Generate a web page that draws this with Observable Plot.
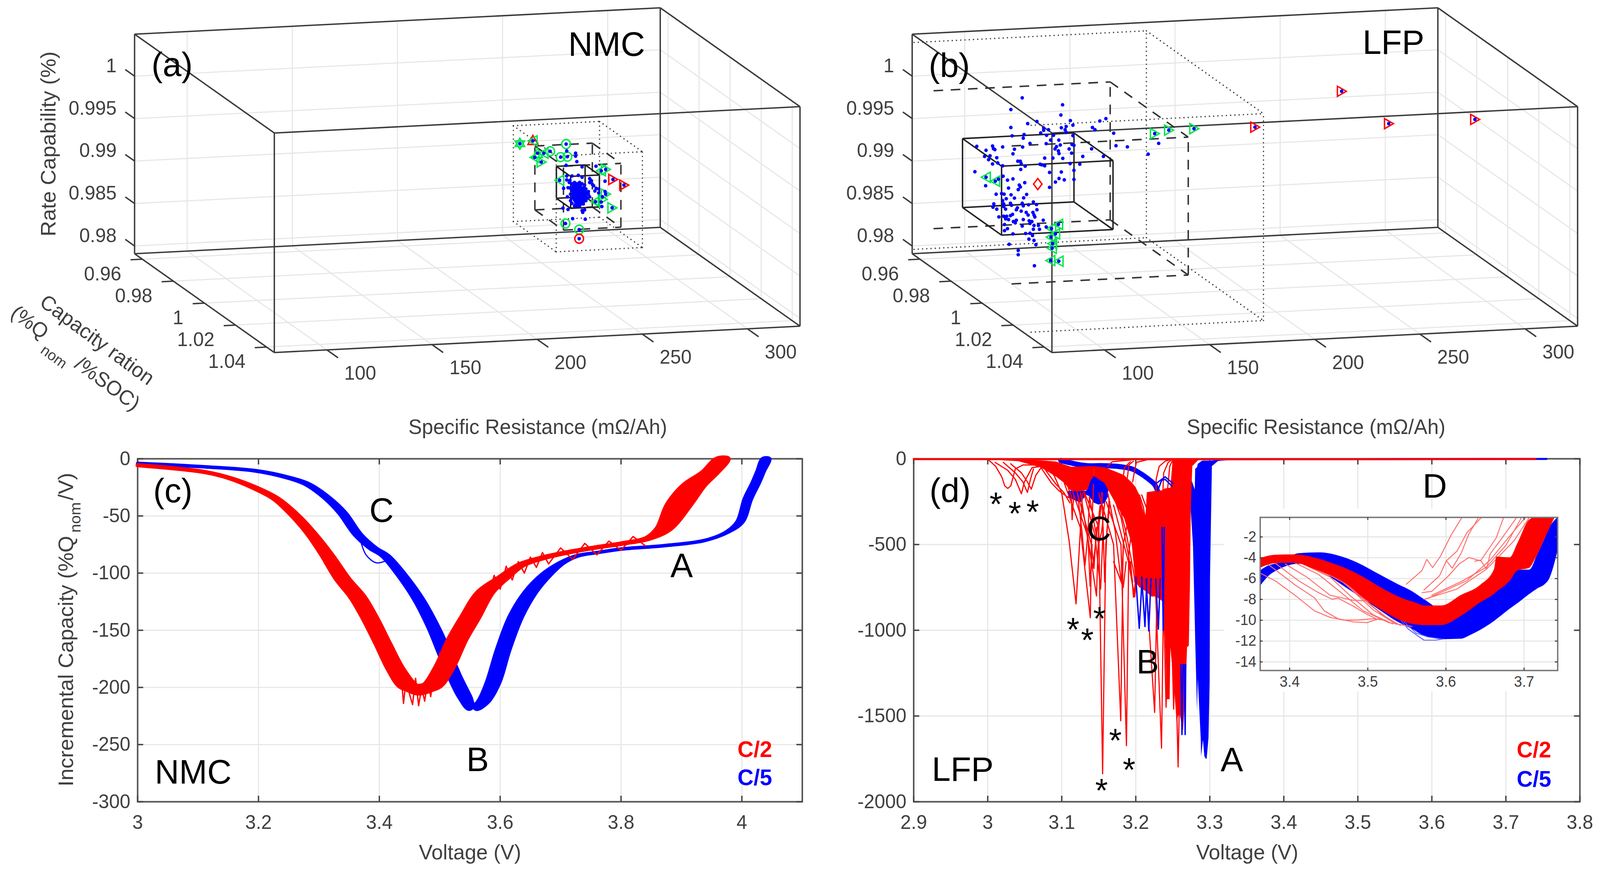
<!DOCTYPE html>
<html><head><meta charset="utf-8">
<script src="https://cdn.jsdelivr.net/npm/d3@7"></script>
<script src="https://cdn.jsdelivr.net/npm/@observablehq/plot@0.6"></script>
<style>html,body{margin:0;background:#fff;overflow:hidden}#page{position:relative;width:4179px;height:2240px;overflow:hidden;transform-origin:0 0}</style>
</head><body><div id="page"></div>
<script>
// ---------- 3D axes ----------
const resDomain=[75,325], capDomain=[0.955,1.045], rateDomain=[0.97909,1.00494];
const resTicks=[100,150,200,250,300], capTicks=[0.96,0.98,1,1.02,1.04], rateTicks=[0.98,0.985,0.99,0.995,1];
// ---------- NMC scatter (depth cannot be read: taken on the capacity = 1 plane) ----------
const aRes=[225.0,231.2,247.0,239.4,233.4,236.4,232.1,244.4,247.6,235.2,247.3,251.5,251.5,252.1,247.0,254.6,261.2,263.7,265.8,269.3,265.5,274.5,243.9,247.3,249.8,252.8,254.6,258.2,258.9,248.8,247.3,245.8,247.6,249.1,249.8,251.0,245.5,247.9,254.9,254.6,255.8,250.1,256.1,246.7,253.2,253.2,268.9,264.0,261.0,265.5,265.8,264.3,263.7,260.1,261.3,262.5,260.7,262.5,258.2,259.5,248.5,249.8,251.0,252.2,253.4,254.6,255.8,247.9,249.1,250.4,251.6,252.8,254.0,255.2,256.4,249.8,251.0,252.2,253.4,254.6,255.8,257.6,249.1,250.4,251.6,252.8,254.0,255.2,256.4,257.6,249.8,251.0,252.2,253.4,254.6,255.8,257.0,258.2,251.6,252.8,254.0,255.2,256.4,252.2,253.4,250.4,251.6,252.8,254.0,255.2,249.1,250.4,251.6,252.8,254.0,255.2,256.4,250.4,251.6,252.8,254.0,255.2,256.4,251.0,252.2,253.4,254.6,255.8,251.6,252.8,254.0,255.2,250.4,251.6,252.8,254.0];
const aRate=[.99600,.99626,.99568,.99493,.99478,.99474,.99429,.99418,.99419,.99371,.99487,.99455,.99420,.99355,.99318,.99290,.99290,.99233,.99246,.99124,.99108,.99051,.99146,.99192,.99189,.99193,.99168,.99148,.99124,.99137,.99146,.99048,.98946,.98899,.98867,.98835,.98816,.98797,.98754,.98777,.98783,.98686,.98672,.98633,.98553,.98446,.98790,.98811,.98872,.98986,.98955,.98926,.98865,.99061,.99029,.99020,.98999,.98974,.99102,.99078,.99114,.99097,.99111,.99094,.99108,.99091,.99074,.99053,.99052,.99066,.99049,.99063,.99046,.99044,.99028,.99021,.99019,.99018,.99016,.99015,.98998,.98995,.98975,.98974,.98972,.98971,.98969,.98968,.98966,.98965,.98929,.98927,.98926,.98924,.98923,.98906,.98920,.98933,.98880,.98879,.98877,.98876,.98890,.98834,.98832,.99043,.99041,.99040,.99038,.99037,.99044,.98997,.98995,.98994,.98992,.98991,.98989,.98951,.98949,.98948,.98946,.98945,.98943,.98904,.98903,.98901,.98900,.98898,.98857,.98856,.98854,.98853,.99089,.99087,.99086,.99084];
const aMarkRes=[225.0,231.2,231.2,233.4,236.4,232.1,235.2,239.4,247.0,244.4,247.6,246.7,253.2,253.2,263.7,265.8,269.3,274.5,243.9,265.8,264.3,261.0,268.9,251.3];
const aMarkRate=[.99600,.99634,.99626,.99478,.99474,.99429,.99371,.99493,.99568,.99418,.99419,.98633,.98553,.98446,.99233,.99246,.99124,.99051,.99146,.98955,.98895,.98872,.98790,.99088];
const aMarkKind=["star","up","left","up","left","left","right","circle","circle","circle","circle","circle","circle","circle","left","right","right","right","left","right","right","left","right","tiny"];
const aMarkColor=["g","r","g","g","g","g","g","g","g","g","g","g","g","r","g","g","r","r","g","g","g","g","g","r"];
const aCentre={res:252.6,cap:1,rate:0.9906}, aSigma={res:6.83,cap:0.0046,rate:0.00188};
// ---------- LFP scatter ----------
const bRes=[94.1,113.3,88.7,112.5,117.0,133.9,131.0,101.1,96.7,88.7,104.3,118.2,112.7,115.0,114.5,127.5,128.7,106.6,104.3,115.0,102.9,105.7,109.0,95.0,89.3,94.6,118.2,137.6,107.6,111.5,97.8,105.5,112.2,117.8,118.7,72.5,80.0,84.8,94.3,110.4,138.7,144.1,81.1,76.9,90.4,80.4,109.7,116.4,127.1,111.3,111.6,117.6,89.7,159.0,154.0,76.2,78.8,82.0,78.1,104.8,108.7,113.4,122.9,132.7,92.0,93.2,93.6,80.0,82.5,84.8,95.5,102.6,104.8,103.4,116.9,121.5,93.4,71.6,107.1,112.7,118.7,76.9,85.0,82.8,81.3,87.1,89.7,95.3,109.9,111.6,114.1,118.7,76.7,92.7,93.2,92.2,87.6,107.1,81.7,84.3,85.5,88.8,96.2,86.5,90.4,94.8,84.8,85.3,80.6,88.5,89.0,94.1,94.6,97.1,99.4,100.9,80.2,82.0,85.3,86.2,91.8,91.3,93.6,101.1,96.0,99.2,96.9,99.7,89.5,88.5,83.0,85.3,86.7,86.2,87.6,100.1,89.9,91.3,90.8,94.6,97.4,98.7,97.8,104.1,94.1,85.7,99.7,101.8,105.5,87.1,85.7,99.4,102.3,89.7,95.7,97.8,99.0,97.3,99.7,100.6,87.9,92.2,92.2,99.9,111.3,108.0,109.9,107.8,108.5,108.3,107.6,111.5,157.1,163.8,175.8];
const bRate=[1.00302,1.00197,1.00171,1.00077,1.00006,1.00008,.99984,1.00015,.99996,.99960,.99934,.99951,.99927,.99939,.99902,.99912,.99884,.99911,.99907,.99870,.99878,.99847,.99843,.99869,.99861,.99827,.99828,.99832,.99788,.99783,.99761,.99749,.99725,.99724,.99713,.99758,.99753,.99736,.99723,.99708,.99683,.99663,.99709,.99706,.99702,.99722,.99682,.99673,.99661,.99657,.99625,.99622,.99649,.99686,.99565,.99635,.99639,.99612,.99594,.99580,.99575,.99566,.99577,.99565,.99559,.99557,.99529,.99541,.99550,.99514,.99496,.99510,.99489,.99502,.99500,.99487,.99460,.99460,.99408,.99406,.99418,.99389,.99391,.99358,.99337,.99342,.99353,.99302,.99291,.99331,.99312,.99311,.99289,.99277,.99254,.99224,.99248,.99232,.99183,.99188,.99179,.99167,.99162,.99124,.99127,.99124,.99103,.99064,.99070,.99068,.99044,.99061,.99030,.99039,.99070,.99037,.99032,.99007,.99034,.99002,.99010,.98988,.98969,.98976,.98951,.98947,.98919,.98916,.98936,.98922,.98914,.98919,.98917,.98887,.98877,.98892,.98851,.98865,.98835,.98869,.98850,.98840,.98819,.98849,.98793,.98821,.98793,.98791,.98768,.98771,.98749,.98748,.98744,.98706,.98703,.98704,.98675,.98635,.98617,.98565,.98586,.98508,.98458,.98318,.98791,.98745,.98681,.98645,.98568,.98514,.98370,.98357,.99803,.99836,.99838];
const bMarkRes=[76.9,81.3,111.3,108.0,109.9,107.8,108.5,108.3,107.6,111.5,157.1,163.8,175.8,246.0,204.8,268.4,309.4,101.5];
const bMarkRate=[.99389,.99337,.98791,.98745,.98681,.98645,.98568,.98514,.98370,.98357,.99803,.99836,.99838,1.00191,.99820,.99782,.99781,.99278];
const bMarkKind=["left","left","left","left","left","left","left","left","left","left","right","right","right","right","right","right","right","diamond"];
const bMarkColor=["g","g","g","g","g","g","g","g","g","g","g","g","g","r","r","r","r","r"];
const bExtraRes=[246.0,204.8,268.4,309.4], bExtraRate=[1.00191,.99820,.99782,.99781];
const bCentre={res:101.5,cap:1,rate:0.99278}, bSigma={res:26.5,cap:0.01257,rate:0.00406};
// ---------- (c) NMC incremental capacity: mid curve and half-width of the band of cycles, in volts ----------
const cBlueV=[3,3.11,3.195,3.246,3.28,3.313,3.339,3.364,3.389,3.41,3.436,3.465,3.49,3.508,3.525,3.541,3.554,3.571,3.588,3.605,3.626,3.651,3.677,3.702,3.727,3.761,3.8,3.871,3.938,3.976,3.997,4.01,4.023,4.031,4.04];
const cBlueQ=[-4,-7,-10.5,-16,-22,-34,-47.5,-66,-78,-85,-101,-123,-148,-170,-191,-208,-219,-213,-196,-167,-138,-116,-101,-91,-85,-82,-79,-76,-71.5,-64,-55,-35,-21,-11,0];
const cBlueSpread=[0,0,.002,.003,.004,.005,.006,.006,.006,.006,.007,.008,.009,.01,.01,.01,.006,.009,.011,.011,.011,.01,.008,.004,.002,0,0,0,0,.002,.005,.006,.006,.006,.006];
const cBlueDipV=[3.368,3.378,3.395,3.412], cBlueDipQ=[-70,-84,-91,-89];
const cRedV=[3,3.11,3.153,3.195,3.229,3.263,3.288,3.313,3.339,3.364,3.385,3.406,3.427,3.448,3.465,3.486,3.508,3.529,3.55,3.575,3.605,3.634,3.668,3.71,3.753,3.803,3.845,3.871,3.896,3.921,3.947,3.968];
const cRedQ=[-5.6,-11.5,-17,-25.6,-35,-51,-66,-84,-105,-121,-140,-162,-184,-199,-202,-199,-182,-158,-139,-117,-104,-93,-87,-82,-78,-74,-69.5,-61,-40,-23,-12,0];
const cRedSpread=[0,0,.001,.003,.004,.006,.007,.009,.011,.012,.012,.012,.013,.015,.015,.015,.015,.015,.015,.013,.008,.005,.003,.002,.001,.002,.004,.012,.02,.018,.013,.01];
const cRedNoiseLow=[[3.42,-178],[3.43,-196],[3.435,-182],[3.44,-214],[3.445,-190],[3.45,-206],[3.455,-215],[3.46,-192],[3.465,-216],[3.47,-200],[3.475,-212],[3.48,-195],[3.485,-208],[3.49,-190],[3.495,-200],[3.5,-170],[3.505,-195],[3.51,-165],[3.515,-172],[3.52,-160],[3.525,-172]];
const cRedNoiseHigh=[[3.56,-128],[3.57,-112],[3.58,-122],[3.59,-102],[3.6,-114],[3.61,-94],[3.62,-106],[3.63,-90],[3.64,-100],[3.65,-86],[3.66,-95],[3.67,-82],[3.68,-92],[3.7,-78],[3.72,-88],[3.74,-74],[3.76,-84],[3.78,-72],[3.8,-80],[3.82,-68],[3.84,-76]];
const cRedNoiseMid=[[3.3,-80],[3.31,-92],[3.32,-88],[3.33,-108],[3.34,-103],[3.35,-122],[3.36,-116],[3.37,-135],[3.38,-130],[3.39,-155],[3.4,-147],[3.41,-172],[3.42,-165]];
// ---------- (d) LFP incremental capacity: [V, upper Q, lower Q] envelopes ----------
const dRedTail=[[2.9,0,-3],[2.98,0,-5],[3.0107,-1,-8],[3.0414,-6,-15],[3.072,-10,-52],[3.0925,-17,-105],[3.1027,-33,-139],[3.113,-48,-188],[3.1252,-46,-192],[3.1354,-44,-181],[3.1385,-44,-135],[3.1436,-44,-101]];
const dRedBand=[[3.1436,-44,-101],[3.1579,-50,-143],[3.1743,-78,-272],[3.1845,-97,-348],[3.1948,-139,-500],[3.1998,-165,-720],[3.205,-211,-750],[3.2132,-355,-772],[3.2152,-196,-780],[3.2213,-192,-804],[3.2275,-188,-804],[3.2357,-185,-830],[3.2398,-173,-1039],[3.2419,-173,-1403],[3.246,-170,-1403],[3.247,-170,-1100],[3.2502,0,-1250],[3.2522,0,-1342],[3.2553,0,-1533],[3.259,0,-1480],[3.2641,0,-1586],[3.2678,0,-1319],[3.2695,0,-1100],[3.2719,0,-1091],[3.2735,0,-720],[3.2745,0,-300],[3.2766,0,-44],[3.2848,0,-8]];
const dBluePatch=[[3.1089,-188,-226],[3.1252,-188,-257],[3.1334,-188,-211],[3.1375,-120,-219],[3.1436,-101,-257],[3.1498,-97,-268],[3.1579,-120,-260],[3.163,-143,-219]];
const dBlueMain=[[3.2745,-112,-300],[3.2775,-150,-500],[3.28,-180,-950],[3.2805,-60,-1050],[3.283,-50,-1470],[3.284,-30,-1280],[3.288,-18,-1630],[3.2885,-15,-1737],[3.291,-12,-1640],[3.293,-12,-1737],[3.295,-12,-1750],[3.296,-12,-1750],[3.2985,-12,-1630],[3.3,-12,-1300],[3.3005,-12,-700],[3.3031,-12,-44],[3.3113,-6,-14],[3.3297,-2,-6]];
const dBlueBand=[[3.0986,-10],[3.1129,-25],[3.1334,-40],[3.1539,-40],[3.1743,-44],[3.1948,-59],[3.205,-82],[3.2152,-112],[3.2254,-150],[3.2295,-188]];
const dBlueBaseline=[[3.3,-3],[3.5,-2],[3.755,-1]];
const dRedBaseline=[[2.9,-2],[3.3,-3],[3.5,-3],[3.6,-2],[3.74,-1]];
const dBlueSpikes=[[[3.2255,-150],[3.2397,-105],[3.25,-143]],[[3.2295,-188],[3.235,-125],[3.2397,-120],[3.249,-160]],[[3.2,-690],[3.2047,-989],[3.2085,-700]],[[3.208,-690],[3.2124,-978],[3.215,-700]],[[3.214,-700],[3.2176,-1004],[3.2205,-700]],[[3.227,-700],[3.2305,-993],[3.233,-700]],[[3.2355,-400],[3.237,-1000],[3.2385,-400]],[[3.261,-1200],[3.2624,-1608],[3.2638,-1200]],[[3.2655,-1200],[3.2667,-1608],[3.2675,-1200]]];
const dRedSpikes=[
[[3.0,-2],[3.0107,-44],[3.0189,-105],[3.023,-158],[3.0271,-173],[3.0311,-158],[3.0373,-59],[3.0475,-36],[3.0618,-36]],
[[3.01,-21],[3.027,-67],[3.0373,-120],[3.0455,-204],[3.0495,-135],[3.0598,-52],[3.072,-44]],
[[3.021,-21],[3.0373,-82],[3.0475,-135],[3.0536,-196],[3.0577,-120],[3.0618,-59]],
[[3.031,-29],[3.0455,-82],[3.0536,-135],[3.0588,-177],[3.0649,-97],[3.072,-52]],
[[3.075,-20],[3.09,-100],[3.1,-200],[3.11,-480],[3.1193,-846],[3.124,-500],[3.128,-200]],
[[3.1,-100],[3.125,-400],[3.1386,-927],[3.1405,-400],[3.143,-150]],
[[3.11,-130],[3.135,-450],[3.1469,-800],[3.15,-400],[3.155,-200]],
[[3.13,-190],[3.15,-400],[3.1552,-1837],[3.1595,-500],[3.165,-250]],
[[3.12,-180],[3.14,-500],[3.1435,-640],[3.147,-400]],
[[3.15,-200],[3.17,-500],[3.1797,-1528],[3.183,-500],[3.19,-350]],
[[3.16,-250],[3.18,-500],[3.1874,-1673],[3.1905,-550],[3.195,-400]],
[[3.13,-200],[3.145,-450],[3.1525,-760],[3.156,-400]],
[[3.17,-270],[3.19,-600],[3.1986,-805],[3.202,-650]],
[[3.215,-780],[3.2255,-1479],[3.2285,-800]],
[[3.227,-800],[3.2348,-1688],[3.2375,-800]],
[[3.2375,-800],[3.2409,-1449],[3.244,-1000]],
[[3.249,-1100],[3.2512,-1460],[3.253,-1100]],
[[3.255,-1400],[3.2572,-1797],[3.259,-1400]],
[[3.25,-2],[3.2397,-14],[3.2316,-44],[3.2275,-120],[3.2275,-185]],
[[3.25,-2],[3.2438,-21],[3.2377,-82],[3.2367,-185]],
[[3.25,-6],[3.2459,-44],[3.2428,-185]],
[[3.2504,-14],[3.2489,-185]],
[[3.162,-44],[3.1682,-17],[3.1948,-6]],
[[3.2152,-6],[3.2009,-21],[3.1988,-59],[3.1958,-135]],
[[3.1968,-14],[3.1907,-36],[3.1886,-112]],
[[3.1927,-17],[3.1845,-52],[3.1835,-97]],
[[3.1068,-143],[3.113,-219],[3.114,-355],[3.116,-219]],
[[3.1211,-196],[3.1273,-424],[3.1314,-621],[3.1355,-424],[3.1375,-219]],
[[3.1252,-196],[3.1334,-424],[3.1416,-636],[3.1457,-500],[3.1518,-272]],
[[3.1375,-219],[3.1457,-424],[3.1498,-500],[3.1539,-424],[3.158,-257]],
[[3.1539,-196],[3.156,-424],[3.158,-720],[3.161,-424],[3.1641,-234]],
[[3.162,-196],[3.1723,-424],[3.1804,-720],[3.1835,-500]],
[[3.1682,-196],[3.1804,-348],[3.1907,-576],[3.1958,-720]],
[[3.1743,-219],[3.1866,-424],[3.1968,-652],[3.1988,-720]],
[[3.205,-211],[3.2101,-279],[3.2132,-355],[3.2152,-272],[3.2193,-211]],
[[3.208,-211],[3.2152,-295]],
[[3.072,-52],[3.0864,-143],[3.0966,-188],[3.1089,-226]],
[[3.0782,-67],[3.0925,-150],[3.1027,-196],[3.1109,-257]],
[[3.17,-600],[3.1831,-750],[3.187,-600]],
[[3.193,-600],[3.1969,-807],[3.2,-700]],
[[3.136,-500],[3.1383,-743],[3.141,-500]]];
const starV=[3.011,3.0366,3.0607,3.1152,3.1345,3.151,3.1724,3.191,3.1538];
const starQ=[-220,-273,-264,-951,-1011,-886,-1597,-1768,-1889];
// ---------- (d) inset ----------
const insetRed=[[3.3623,-4.04,-4.98],[3.3818,-3.73,-4.54],[3.4068,-3.70,-4.50],[3.4318,-4.00,-5.10],[3.4568,-4.60,-5.85],[3.4743,-5.10,-6.60],[3.4943,-5.85,-7.85],[3.5193,-6.98,-9.10],[3.5443,-7.90,-10.10],[3.5643,-8.40,-10.45],[3.5718,-8.60,-10.48],[3.5943,-8.60,-10.48],[3.6193,-7.60,-9.60],[3.6443,-6.60,-8.29],[3.6618,-5.10,-7.48],[3.6648,-3.91,-7.29],[3.6818,-3.98,-6.23],[3.6918,-2.60,-5.23],[3.7068,-0.35,-4.98],[3.7143,-0.125,-4.10],[3.7268,-0.125,-2.10],[3.7393,-0.125,-0.125]];
const insetBlue=[[3.3623,-5.23,-6.73],[3.3718,-4.79,-5.85],[3.3868,-4.48,-5.10],[3.4118,-3.58,-4.60],[3.4393,-3.50,-5.23],[3.4618,-3.79,-6.35],[3.4868,-4.48,-7.60],[3.5118,-5.48,-8.85],[3.5368,-6.48,-10.10],[3.5568,-7.23,-10.85],[3.5718,-7.98,-11.48],[3.5968,-8.98,-11.83],[3.6193,-8.85,-11.79],[3.6318,-8.35,-11.41],[3.6568,-7.10,-10.35],[3.6818,-5.85,-8.91],[3.6943,-5.16,-8.23],[3.7068,-5.16,-7.50],[3.7168,-3.73,-6.98],[3.7268,-2.10,-6.54],[3.7318,-1.23,-6.10],[3.743,-0.125,-3.35]];
const insetRedThin=[
[[3.5493,-6.54],[3.5693,-5.23],[3.5755,-4.16],[3.583,-4.95],[3.593,-3.85],[3.6068,-1.79],[3.6205,-0.125]],
[[3.5718,-7.10],[3.5918,-5.73],[3.6005,-4.29],[3.6143,-3.35],[3.6268,-1.60],[3.6455,-0.125]],
[[3.6005,-4.29],[3.608,-5.0],[3.6193,-3.6],[3.6293,-1.73],[3.6418,-0.125]],
[[3.5693,-7.35],[3.5818,-7.23],[3.6018,-5.85],[3.6168,-4.60],[3.6293,-3.98],[3.6443,-4.29],[3.6643,-2.10],[3.6738,-0.125]],
[[3.6368,-4.33],[3.6443,-4.23],[3.6518,-5.10],[3.6568,-3.60],[3.6718,-2.10],[3.6905,-0.125]],
[[3.3623,-5.48],[3.3818,-6.23],[3.4068,-7.60],[3.4318,-9.10],[3.4518,-9.73],[3.4693,-9.98],[3.4868,-9.98],[3.5068,-9.85],[3.5218,-9.98]],
[[3.3718,-4.60],[3.4068,-6.60],[3.4318,-7.85],[3.4443,-9.10],[3.4618,-9.85],[3.4818,-10.16],[3.4993,-10.23],[3.5168,-9.79]],
[[3.3818,-4.54],[3.4118,-6.23],[3.4368,-7.35],[3.4543,-7.98],[3.4618,-7.88],[3.4818,-8.66],[3.4968,-9.35],[3.5118,-9.91]],
[[3.3943,-4.60],[3.4218,-5.85],[3.4518,-7.60],[3.4818,-8.10],[3.5043,-8.16],[3.5218,-8.35]],
[[3.4068,-4.48],[3.4368,-5.60],[3.4618,-7.10],[3.4943,-9.10],[3.5268,-10.23],[3.5568,-10.60]],
[[3.4168,-4.60],[3.4518,-5.85],[3.4768,-7.60],[3.5068,-9.48],[3.5318,-10.35]],
[[3.4318,-5.10],[3.4643,-6.10],[3.4968,-8.1],[3.5268,-9.9]],
[[3.44,-5.2],[3.4743,-6.6],[3.5043,-8.6],[3.5318,-10.2]],
[[3.4468,-5.0],[3.4768,-6.9],[3.5068,-9.0],[3.5368,-10.4]],
[[3.4568,-5.3],[3.4868,-7.3],[3.5168,-9.4],[3.5418,-10.5]],
[[3.5818,-7.6],[3.6193,-6.3],[3.6518,-4.9],[3.6768,-2.8],[3.6968,-0.125]],
[[3.5768,-7.9],[3.6268,-6.2],[3.6568,-4.2],[3.6818,-1.9],[3.7018,-0.125]],
[[3.5718,-8.0],[3.6143,-7.0],[3.6518,-5.1],[3.6868,-2.4],[3.7068,-0.125]]];
const insetBlueThin=[
[[3.5318,-9.1],[3.5518,-10.85],[3.5718,-11.91],[3.5868,-11.91],[3.5968,-11.79]],
[[3.5368,-9.48],[3.5618,-11.23],[3.5768,-11.6],[3.5943,-11.79]]];
const cXTicks=[3,3.2,3.4,3.6,3.8,4], cYTicks=[0,-50,-100,-150,-200,-250,-300];
const dXTicks=[2.9,3,3.1,3.2,3.3,3.4,3.5,3.6,3.7,3.8], dYTicks=[0,-500,-1000,-1500,-2000];
const insetXTicks=[3.4,3.5,3.6,3.7], insetYTicks=[-2,-4,-6,-8,-10,-12,-14];

// ---------- styling ----------
const RED="#ff0000", BLUE="#0000ff", GREEN="#00e650", INK="#404040", GRID="#e6e6e6";
const FONT="'Liberation Sans',Arial,sans-serif";
const page=document.getElementById("page");
// the browser window can be narrower than the 4179 px layout: fit the layout to it
if(window.innerWidth<4179) page.style.transform=`scaleX(${window.innerWidth/4179})`;
const place=(svg,l,t)=>{svg.style.position="absolute";svg.style.left=l+"px";svg.style.top=t+"px";svg.style.maxWidth="none";svg.style.overflow="visible";page.appendChild(svg);};
const noteFactory=(ox,oy)=>(s,fx,fy,o={})=>Plot.text([s],{text:d=>d,frameAnchor:"top-left",dx:fx-ox,dy:fy-oy,textAnchor:"middle",lineAnchor:"middle",fontSize:88,fill:"#000",...o});
const zipRows=(xs,ys)=>xs.map((x,i)=>({x,y:ys[i]}));
const pairs=a=>a.map(([x,y])=>({x,y}));
const multi=a=>a.flatMap((l,id)=>l.map(([x,y])=>({x,y,id})));
const env=a=>a.map(([x,y1,y2])=>({x,y1,y2}));
const area=(a,fill,curve="linear")=>Plot.areaY(env(a),{x:"x",y1:"y1",y2:"y2",fill,curve});
// outline of a band of cycles: the mid curve moved left, then right, by the band's half-width
const bandOutline=(vs,qs,ws)=>[...vs.map((v,i)=>({x:v-ws[i],y:qs[i]})),...vs.map((v,i)=>({x:v+ws[i],y:qs[i]})).reverse()];

const tri=(pts)=>({draw(ctx,size){const r=Math.sqrt(size/Math.PI);pts.forEach((p,i)=>{const x=p[0]*r,y=p[1]*r;i?ctx.lineTo(x,y):ctx.moveTo(x,y);});ctx.closePath();}});
const symbols={
 left:tri([[.85,-1],[-.95,0],[.85,1]]), right:tri([[-.85,-1],[.95,0],[-.85,1]]), up:tri([[-1,.85],[1,.85],[0,-.95]]),
 diamond:tri([[0,-1.1],[.85,0],[0,1.1],[-.85,0]]), tiny:tri([[0,-1.1],[.85,0],[0,1.1],[-.85,0]]), circle:"circle",
 star:{draw(ctx,size){const r=Math.sqrt(size/Math.PI);[[[0,-1.1],[.95,.55],[-.95,.55]],[[0,1.1],[.95,-.55],[-.95,-.55]]].forEach(t=>{t.forEach((p,i)=>i?ctx.lineTo(p[0]*r,p[1]*r):ctx.moveTo(p[0]*r,p[1]*r));ctx.closePath();});}}
};

// ---------- oblique 3D view ----------
const PX_PER_RES=5.492, PX_PER_RATE=21740, TOP_PX=87, CAP_PX_X=365, CAP_PX_Y=253, RES_TILT_PX=0.27;
const project=(r,c,z)=>{const f=(c-capDomain[0])/(capDomain[1]-capDomain[0]);
  return {x:r+f*CAP_PX_X/PX_PER_RES, y:z+((r-resDomain[0])*RES_TILT_PX-f*CAP_PX_Y)/PX_PER_RATE};};
const seg=(a,b)=>{const p=project(...a),q=project(...b);return {x1:p.x,y1:p.y,x2:q.x,y2:q.y};};
const boxEdges=(r0,r1,c0,c1,z0,z1,openLeft)=>{const e=[];
  for(const c of [c0,c1])for(const z of [z0,z1])e.push(seg([r0,c,z],[r1,c,z]));
  for(const r of [r0,r1])for(const z of [z0,z1]){if(r===r0&&openLeft)continue;e.push(seg([r,c0,z],[r,c1,z]));}
  for(const r of [r0,r1])for(const c of [c0,c1]){if(r===r0&&openLeft)continue;e.push(seg([r,c,z0],[r,c,z1]));}
  return e;};

function panel3D({left,width,originX,res,rate,extraRes=[],extraRate=[],markRes,markRate,markKind,markColor,centre,sigma,minRes,tag,name,title}){
  const H=1140, [r0,r1]=resDomain,[c0,c1]=capDomain,[z0,z1]=rateDomain;
  const uL=r0-originX/PX_PER_RES, vTop=z1+TOP_PX/PX_PER_RATE;
  const grid=[
    ...resTicks.map(r=>seg([r,c0,z0],[r,c0,z1])), ...rateTicks.map(z=>seg([r0,c0,z],[r1,c0,z])),
    ...resTicks.map(r=>seg([r,c0,z0],[r,c1,z0])), ...capTicks.map(c=>seg([r0,c,z0],[r1,c,z0])),
    ...capTicks.map(c=>seg([r1,c,z0],[r1,c,z1])), ...rateTicks.map(z=>seg([r1,c0,z],[r1,c1,z]))];
  const frame=boxEdges(r0,r1,c0,c1,z0,z1,false);
  const ticks=[...resTicks.map(r=>seg([r,c1,z0],[r,c1+0.0072,z0])),...capTicks.map(c=>seg([r0,c,z0],[r0-5.6,c,z0])),...rateTicks.map(z=>seg([r0,c0,z],[r0,c0-0.006,z]))];
  const cube=k=>{const lo=Math.max(centre.res-k*sigma.res,minRes);return boxEdges(lo,centre.res+k*sigma.res,centre.cap-k*sigma.cap,centre.cap+k*sigma.cap,centre.rate-k*sigma.rate,centre.rate+k*sigma.rate,lo===minRes&&k>1);};
  const note=noteFactory(left,0);
  const resLab=resTicks.map(r=>({...project(r,c1,z0),t:String(r)}));
  const capLab=capTicks.map(c=>({...project(r0,c,z0),t:String(c)}));
  const rateLab=rateTicks.map(z=>({...project(r0,c0,z),t:String(z)}));
  const markRows=markRes.map((r,i)=>({...project(r,1,markRate[i]),kind:markKind[i],color:markColor[i]==="g"?GREEN:RED}));
  const markDots=[...new Set(markKind)].map(k=>Plot.dot(markRows.filter(d=>d.kind===k),{x:"x",y:"y",symbol:symbols[k],r:k==="circle"?11.5:k==="tiny"?5:13,stroke:"color",fill:"none",strokeWidth:3.6}));
  const pts=[...res.map((r,i)=>project(r,1,rate[i])),...extraRes.map((r,i)=>project(r,1,extraRate[i]))];
  const link=(rows,o)=>Plot.link(rows,{x1:"x1",y1:"y1",x2:"x2",y2:"y2",...o});
  const svg=Plot.plot({width,height:H,marginLeft:0,marginRight:0,marginTop:0,marginBottom:0,
    x:{domain:[uL,uL+width/PX_PER_RES],range:[0,width],axis:null},
    y:{domain:[vTop-H/PX_PER_RATE,vTop],range:[H,0],axis:null},
    style:{fontFamily:FONT,background:"transparent"},
    marks:[
      link(grid,{stroke:GRID,strokeWidth:2.8}),
      link(frame,{stroke:"#3a3a3a",strokeWidth:3.6}),
      link(ticks,{stroke:"#3a3a3a",strokeWidth:3.6}),
      link(cube(3),{stroke:"#404040",strokeWidth:3.6,strokeDasharray:"0.1,11",strokeLinecap:"round"}),
      link(cube(2),{stroke:"#333",strokeWidth:3.8,strokeDasharray:"25,20"}),
      link(cube(1),{stroke:"#222",strokeWidth:3.8}),
      ...markDots,
      Plot.dot(pts,{x:"x",y:"y",r:4.6,fill:BLUE}),
      Plot.text(resLab,{x:"x",y:"y",text:"t",dx:87,dy:60,fontSize:50,fill:INK}),
      Plot.text(capLab,{x:"x",y:"y",text:"t",dx:-55,dy:38,fontSize:50,fill:INK,textAnchor:"end"}),
      Plot.text(rateLab,{x:"x",y:"y",text:"t",dx:-47,dy:-26,fontSize:50,fill:INK,textAnchor:"end"}),
      note(tag[0],tag[1],tag[2],{}), note(name[0],name[1],name[2],{}),
      note("Specific Resistance (mΩ/Ah)",title,1094,{fontSize:53,fill:INK}),
      ...(left===0?[
        note("Rate Capability (%)",127,368,{fontSize:55,fill:INK,rotate:-90}),
        note("Capacity ration",253,870,{fontSize:53,fill:INK,rotate:36}),
        note("(%Q",77,825,{fontSize:53,fill:INK,rotate:36}),
        note("nom",140,913,{fontSize:38,fill:INK,rotate:36}),
        note("/%SOC)",280,982,{fontSize:53,fill:INK,rotate:36})]:[])
    ]});
  place(svg,left,0);
}
panel3D({left:0,width:2095,originX:351,res:aRes,rate:aRate,markRes:aMarkRes,markRate:aMarkRate,markKind:aMarkKind,markColor:aMarkColor,centre:aCentre,sigma:aSigma,minRes:70.5,tag:["(a)",449,166],name:["NMC",1584,114],title:1404});
panel3D({left:2095,width:2084,originX:287,res:bRes,rate:bRate,extraRes:bExtraRes,extraRate:bExtraRate,markRes:bMarkRes,markRate:bMarkRate,markKind:bMarkKind,markColor:bMarkColor,centre:bCentre,sigma:bSigma,minRes:70.5,tag:["(b)",2479,168],name:["LFP",3639,109],title:3437});

// ---------- 2D panels ----------
const frameTicks=(xt,yt,[x0,x1],[y0,y1],lx,ly,w=3.6)=>[
  Plot.ruleX(xt,{y1:y0,y2:y0+ly,stroke:"#444",strokeWidth:w}),Plot.ruleX(xt,{y1:y1,y2:y1-ly,stroke:"#444",strokeWidth:w}),
  Plot.ruleY(yt,{x1:x0,x2:x0+lx,stroke:"#444",strokeWidth:w}),Plot.ruleY(yt,{x1:x1,x2:x1-lx,stroke:"#444",strokeWidth:w})];
const fmt=d=>String(d);

// (c)
{
  const L=0,T=1130,W=2100,H=1110,note=noteFactory(359,1174);
  const red=zipRows(cRedV,cRedQ);
  const sub=(rows,a,b)=>rows.filter(d=>d.x>=a&&d.x<=b);
  const ln=(rows,stroke,w,curve="catmull-rom")=>Plot.line(rows,{x:"x",y:"y",stroke,strokeWidth:w,strokeLinejoin:"round",strokeLinecap:"round",curve});
  const band=(rows,color,w)=>Plot.line(rows,{x:"x",y:"y",fill:color,stroke:color,strokeWidth:w,strokeLinejoin:"round",curve:"catmull-rom-closed"});
  place(Plot.plot({width:W,height:H,marginLeft:359,marginRight:W-2095,marginTop:44,marginBottom:188,
    x:{domain:[3,4.1]},y:{domain:[-300,0]},style:{fontFamily:FONT,background:"transparent"},
    marks:[
      Plot.gridX(cXTicks,{stroke:GRID,strokeOpacity:1,strokeWidth:2.8}),
      Plot.gridY(cYTicks,{stroke:GRID,strokeOpacity:1,strokeWidth:2.8}),
      Plot.frame({stroke:"#555",strokeWidth:4}),
      ...frameTicks(cXTicks,cYTicks,[3,4.1],[-300,0],15*1.1/1736,15*300/878),
      band(bandOutline(cBlueV,cBlueQ,cBlueSpread),BLUE,9),
      ln(pairs(cBlueDipV.map((v,i)=>[v,cBlueDipQ[i]])),BLUE,3),
      band(bandOutline(cRedV,cRedQ,cRedSpread),RED,11),
      ln(sub(red,3.43,3.5),RED,30),
      ln(pairs(cRedNoiseLow),RED,3.5,"linear"),ln(pairs(cRedNoiseHigh),RED,3.5,"linear"),ln(pairs(cRedNoiseMid),RED,3.5,"linear"),
      Plot.axisX(cXTicks,{tickSize:0,tickPadding:34,tickFormat:fmt,fontSize:50,fill:INK,label:null}),
      Plot.axisY(cYTicks,{tickSize:0,tickPadding:19,tickFormat:fmt,fontSize:50,fill:INK,label:null}),
      note("Incremental Capacity (%Q",173,1692,{fontSize:55,fill:INK,rotate:-90}),
      note("nom",197,1324,{fontSize:40,fill:INK,rotate:-90}),
      note("/V)",173,1245,{fontSize:55,fill:INK,rotate:-90}),
      note("Voltage (V)",1227,2182,{fontSize:54,fill:INK}),
      note("(c)",451,1257),note("NMC",504,1977),note("C",996,1307),note("A",1780,1449),note("B",1247,1945),
      note("C/2",1971,1919,{fontSize:58,fontWeight:"bold",fill:RED}),
      note("C/5",1971,1991,{fontSize:58,fontWeight:"bold",fill:BLUE})
    ]}),L,T);
}
// (d)
{
  const L=2100,T=1130,W=2079,H=1110,note=noteFactory(2386,1174);
  const lm=2386-L, rm=W-(4126-L);
  const thin=(a,stroke,w)=>Plot.line(multi(a),{x:"x",y:"y",z:"id",stroke,strokeWidth:w,strokeLinejoin:"round"});
  place(Plot.plot({width:W,height:H,marginLeft:lm,marginRight:rm,marginTop:44,marginBottom:188,
    x:{domain:[2.9,3.8]},y:{domain:[-2000,0]},style:{fontFamily:FONT,background:"transparent"},
    marks:[
      Plot.gridX(dXTicks,{stroke:GRID,strokeOpacity:1,strokeWidth:2.8}),
      Plot.gridY(dYTicks,{stroke:GRID,strokeOpacity:1,strokeWidth:2.8}),
      Plot.frame({stroke:"#555",strokeWidth:4}),
      ...frameTicks(dXTicks,dYTicks,[2.9,3.8],[-2000,0],15*.9/1740,15*2000/878),
      Plot.line(pairs(dBlueBaseline),{x:"x",y:"y",stroke:BLUE,strokeWidth:5}),
      Plot.line(pairs(dBlueBand),{x:"x",y:"y",stroke:BLUE,strokeWidth:13,curve:"catmull-rom"}),
      area(dBluePatch,BLUE),area(dBlueMain,BLUE),
      Plot.line(pairs(dRedBaseline),{x:"x",y:"y",stroke:RED,strokeWidth:5}),
      area(dRedTail,RED),area(dRedBand,RED),
      thin(dRedSpikes,RED,3),
      thin(dBlueSpikes,BLUE,3.6),
      Plot.axisX(dXTicks,{tickSize:0,tickPadding:34,tickFormat:fmt,fontSize:50,fill:INK,label:null}),
      Plot.axisY(dYTicks,{tickSize:0,tickPadding:19,tickFormat:fmt,fontSize:50,fill:INK,label:null}),
      Plot.text(starV.map((v,i)=>({x:v,y:starQ[i]})),{x:"x",y:"y",text:()=>"*",fontSize:85,dy:22,fill:"#000"}),
      note("Voltage (V)",3257,2182,{fontSize:54,fill:INK}),
      note("(d)",2481,1256),note("LFP",2514,1970),note("C",2870,1354),note("B",2997,1695),note("A",3217,1946),note("D",3747,1245),
      note("C/2",4006,1920,{fontSize:58,fontWeight:"bold",fill:RED}),
      note("C/5",4006,1995,{fontSize:58,fontWeight:"bold",fill:BLUE})
    ]}),L,T);
  // inset
  place(Plot.plot({width:913,height:468,marginLeft:94,marginRight:42,marginTop:22,marginBottom:54,
    x:{domain:[3.3623,3.743]},y:{domain:[-14.825,-0.125]},style:{fontFamily:FONT,background:"#fff"},
    marks:[
      Plot.gridX(insetXTicks,{stroke:GRID,strokeOpacity:1,strokeWidth:2.8}),
      Plot.gridY(insetYTicks,{stroke:GRID,strokeOpacity:1,strokeWidth:2.8}),
      area(insetBlue,BLUE,"monotone-x"),
      thin(insetBlueThin,"#5a5aff",2.2),
      thin(insetRedThin,"#ff6a6a",2.4),
      area(insetRed,RED,"monotone-x"),
      Plot.frame({stroke:"#777",strokeWidth:3.6}),
      ...frameTicks(insetXTicks,insetYTicks,[3.3623,3.743],[-14.825,-0.125],7*.381/777,7*14.7/392,2.8),
      Plot.axisX(insetXTicks,{tickSize:0,tickPadding:15,tickFormat:fmt,fontSize:38,fill:INK,label:null}),
      Plot.axisY(insetYTicks,{tickSize:0,tickPadding:10,tickFormat:fmt,fontSize:38,fill:INK,label:null})
    ]}),3197,1302);
}
</script></body></html>
